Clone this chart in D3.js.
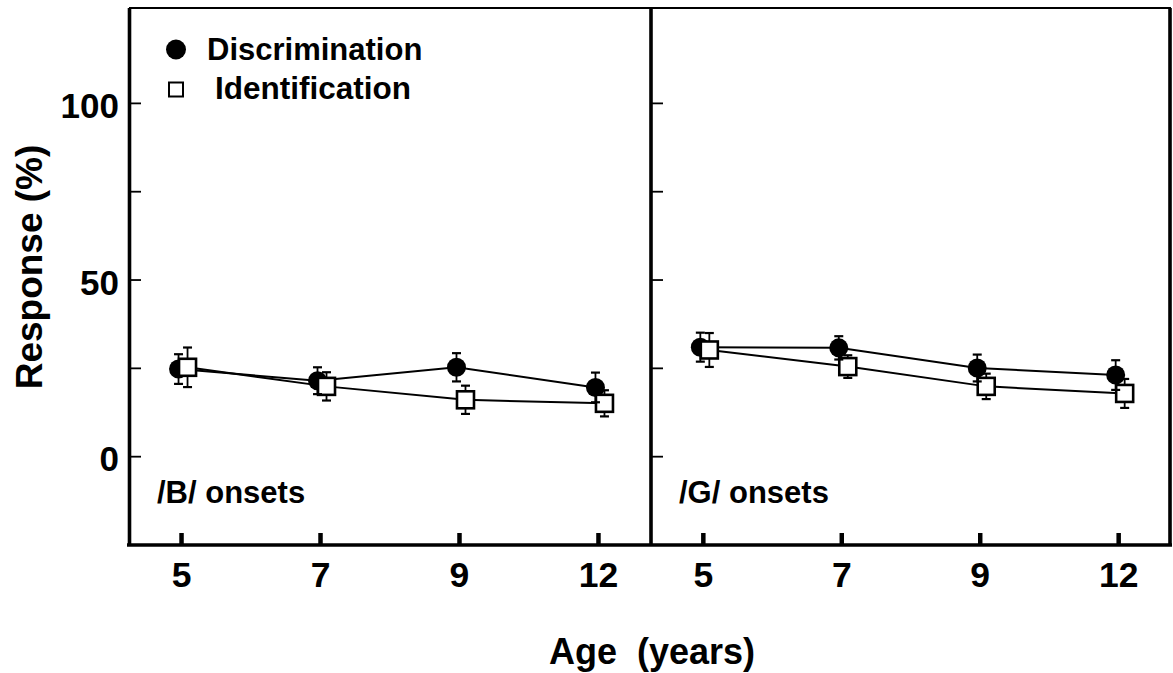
<!DOCTYPE html>
<html>
<head>
<meta charset="utf-8">
<script src="https://cdn.jsdelivr.net/npm/d3@7"></script>
<style>
  html, body { margin: 0; padding: 0; background: #fff; }
  svg { display: block; }
  text { font-family: "Liberation Sans", Arial, sans-serif; font-weight: bold; fill: #000; }
</style>
</head>
<body>
<svg id="chart" width="1173" height="673"></svg>
<script>
// ---- data ----
const ages = ["5", "7", "9", "12"];
const panelLabels = ["/B/ onsets", "/G/ onsets"];
const seriesNames = ["Discrimination", "Identification"];

const discB = [24.8, 21.5, 25.3, 19.6];
const discBErr = [4.2, 3.8, 4.0, 4.2];
const identB = [25.3, 19.9, 16.1, 15.1];
const identBErr = [5.6, 4.0, 4.0, 3.7];

const discG = [31.0, 30.8, 25.1, 23.1];
const discGErr = [4.1, 3.3, 3.8, 4.2];
const identG = [30.2, 25.5, 19.9, 17.9];
const identGErr = [4.8, 3.2, 3.6, 4.1];

const yTickValues = [0, 25, 50, 75, 100];
const yLabelValues = [0, 50, 100];

// ---- layout ----
const svg = d3.select("#chart");
const plotTop = 8, plotBottom = 545;
const panels = [
  { x0: 129, x1: 651, label: panelLabels[0], disc: discB, discErr: discBErr, ident: identB, identErr: identBErr },
  { x0: 651, x1: 1171, label: panelLabels[1], disc: discG, discErr: discGErr, ident: identG, identErr: identGErr }
];

const y = d3.scaleLinear().domain([-25, 127]).range([plotBottom, plotTop]);
const dodgeDisc = -3, dodgeIdent = 6;

panels.forEach((p, pi) => {
  const x = d3.scalePoint().domain(ages).range([p.x0, p.x1]).padding(0.378);
  const g = svg.append("g");

  // y ticks (inward)
  g.selectAll("line.ytick").data(yTickValues).join("line")
    .attr("x1", p.x0).attr("x2", p.x0 + 12)
    .attr("y1", d => y(d)).attr("y2", d => y(d))
    .attr("stroke", "#000").attr("stroke-width", 1.8);

  // x ticks (inward, upward)
  g.selectAll("line.xtick").data(ages).join("line")
    .attr("x1", d => x(d)).attr("x2", d => x(d))
    .attr("y1", plotBottom).attr("y2", plotBottom - 12)
    .attr("stroke", "#000").attr("stroke-width", 4.5);

  // x tick labels
  g.selectAll("text.xlab").data(ages).join("text")
    .attr("x", d => x(d)).attr("y", 587)
    .attr("text-anchor", "middle").attr("font-size", 35.5)
    .text(d => d);

  // panel label
  g.append("text").attr("x", p.x0 + 28).attr("y", 503)
    .attr("font-size", 31).text(p.label);

  const discPts = ages.map((a, i) => ({ x: x(a) + dodgeDisc, v: p.disc[i], e: p.discErr[i] }));
  const identPts = ages.map((a, i) => ({ x: x(a) + dodgeIdent, v: p.ident[i], e: p.identErr[i] }));

  const line = d3.line().x(d => d.x).y(d => y(d.v));
  g.append("path").attr("d", line(discPts)).attr("fill", "none").attr("stroke", "#000").attr("stroke-width", 2);
  g.append("path").attr("d", line(identPts)).attr("fill", "none").attr("stroke", "#000").attr("stroke-width", 2);

  function errBars(sel, pts) {
    const eg = sel.append("g").attr("stroke", "#000").attr("stroke-width", 1.8);
    pts.forEach(d => {
      eg.append("line").attr("x1", d.x).attr("x2", d.x).attr("y1", y(d.v - d.e)).attr("y2", y(d.v + d.e));
      eg.append("line").attr("x1", d.x - 4.5).attr("x2", d.x + 4.5).attr("y1", y(d.v + d.e)).attr("y2", y(d.v + d.e)).attr("stroke-width", 2.2);
      eg.append("line").attr("x1", d.x - 4.5).attr("x2", d.x + 4.5).attr("y1", y(d.v - d.e)).attr("y2", y(d.v - d.e)).attr("stroke-width", 2.2);
    });
  }

  // discrimination circles
  g.selectAll("circle.disc").data(discPts).join("circle")
    .attr("cx", d => d.x).attr("cy", d => y(d.v)).attr("r", 9.5).attr("fill", "#000");
  // identification error bars then squares
  errBars(g, identPts);
  g.selectAll("rect.ident").data(identPts).join("rect")
    .attr("x", d => d.x - 8.5).attr("y", d => y(d.v) - 8.5)
    .attr("width", 17).attr("height", 17)
    .attr("fill", "#fff").attr("stroke", "#000").attr("stroke-width", 2.6);
  // discrimination error bars on top
  errBars(g, discPts);
});

// frame
const frame = svg.append("g").attr("stroke", "#000").attr("fill", "none");
frame.append("line").attr("x1", 129).attr("x2", 1171).attr("y1", plotTop).attr("y2", plotTop).attr("stroke-width", 2.2);
frame.append("line").attr("x1", 127).attr("x2", 1172).attr("y1", plotBottom).attr("y2", plotBottom).attr("stroke-width", 3.6);
frame.append("line").attr("x1", 129.5).attr("x2", 129.5).attr("y1", plotTop).attr("y2", plotBottom).attr("stroke-width", 3.6);
frame.append("line").attr("x1", 651).attr("x2", 651).attr("y1", plotTop).attr("y2", plotBottom).attr("stroke-width", 3.6);
frame.append("line").attr("x1", 1170).attr("x2", 1170).attr("y1", plotTop).attr("y2", plotBottom).attr("stroke-width", 3.6);

// y tick labels (left panel only)
svg.selectAll("text.ylab").data(yLabelValues).join("text")
  .attr("x", 119).attr("y", d => y(d) + 2).attr("dy", "0.36em")
  .attr("text-anchor", "end").attr("font-size", 35)
  .text(d => d);

// axis titles
svg.append("text").attr("transform", "translate(42,267) rotate(-90)")
  .attr("text-anchor", "middle").attr("font-size", 37).text("Response (%)");
svg.append("text").attr("x", 652).attr("y", 664).attr("text-anchor", "middle")
  .attr("font-size", 36).attr("xml:space", "preserve").style("white-space", "pre").text("Age  (years)");

// legend
const legend = svg.append("g");
legend.append("circle").attr("cx", 176).attr("cy", 49.5).attr("r", 10).attr("fill", "#000");
legend.append("text").attr("x", 207).attr("y", 60).attr("font-size", 31).text(seriesNames[0]);
legend.append("rect").attr("x", 169).attr("y", 82.5).attr("width", 14).attr("height", 14)
  .attr("fill", "#fff").attr("stroke", "#000").attr("stroke-width", 2);
legend.append("text").attr("x", 215).attr("y", 99).attr("font-size", 31.5).text(seriesNames[1]);
</script>
</body>
</html>
